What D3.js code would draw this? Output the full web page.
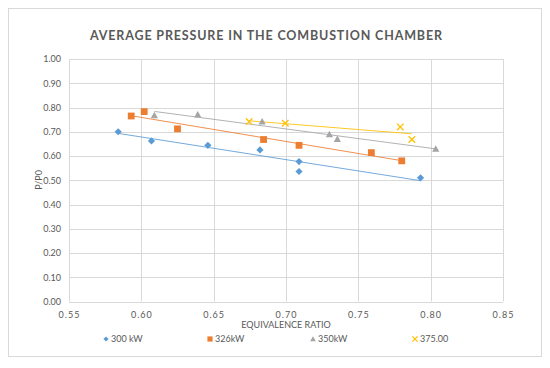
<!DOCTYPE html>
<html><head><meta charset="utf-8">
<script src="https://cdn.jsdelivr.net/npm/d3@7"></script>
<style>body{margin:0;background:#fff}svg{display:block}text{font-family:Lato,"Open Sans",sans-serif}</style>
</head><body><svg id="c" width="550" height="368"></svg>
<script>
const title = "AVERAGE PRESSURE IN THE COMBUSTION CHAMBER";
const xTitle = "EQUIVALENCE RATIO";
const yTitle = "P/P0";
const xTicks = [0.55,0.60,0.65,0.70,0.75,0.80,0.85];
const yTicks = [0,0.1,0.2,0.3,0.4,0.5,0.6,0.7,0.8,0.9,1.0];
const seriesNames = ["300 kW","326kW","350kW","375.00"];
const seriesColors = ["#5B9BD5","#ED7D31","#A5A5A5","#FFC000"];
const s300x = [0.584,0.607,0.646,0.682,0.709,0.709,0.793];
const s300y = [0.700,0.662,0.644,0.625,0.577,0.536,0.510];
const s326x = [0.593,0.602,0.625,0.6845,0.709,0.759,0.780];
const s326y = [0.765,0.783,0.712,0.668,0.644,0.614,0.580];
const s350x = [0.609,0.639,0.6835,0.730,0.7355,0.8035];
const s350y = [0.768,0.771,0.742,0.689,0.670,0.629];
const s375x = [0.6745,0.6995,0.779,0.787];
const s375y = [0.742,0.735,0.720,0.668];

const series = [[s300x,s300y],[s326x,s326y],[s350x,s350y],[s375x,s375y]].map((s,i)=>({
  name: seriesNames[i], color: seriesColors[i],
  pts: s[0].map((x,j)=>({x, y:s[1][j]}))
}));

const svg = d3.select("#c");
svg.append("rect").attr("x",8.5).attr("y",8.5).attr("width",533).attr("height",348)
  .attr("fill","#fff").attr("stroke","#d9d9d9");

const x = d3.scaleLinear().domain([0.55,0.85]).range([69,503]);
const y = d3.scaleLinear().domain([0,1]).range([301.5,59]);

svg.append("g").selectAll("line").data(yTicks).join("line")
  .attr("x1",69).attr("x2",503).attr("y1",d=>Math.round(y(d))+0.5).attr("y2",d=>Math.round(y(d))+0.5)
  .attr("stroke","#d9d9d9");
svg.append("g").selectAll("line").data(xTicks).join("line")
  .attr("y1",59).attr("y2",301.5).attr("x1",d=>Math.round(x(d))+0.5).attr("x2",d=>Math.round(x(d))+0.5)
  .attr("stroke","#d9d9d9");

const ax = svg.append("g").attr("transform","translate(0,301.5)")
  .call(d3.axisBottom(x).tickValues(xTicks).tickFormat(d3.format(".2f")).tickSize(0).tickPadding(10));
ax.select(".domain").remove();
ax.selectAll("text").attr("fill","#595959").attr("font-size",9).style("letter-spacing","1px").attr("font-family","Lato");
const ay = svg.append("g").attr("transform","translate(69,0)")
  .call(d3.axisLeft(y).tickValues(yTicks).tickFormat(d3.format(".2f")).tickSize(0).tickPadding(8));
ay.select(".domain").remove();
ay.selectAll("text").attr("fill","#595959").attr("font-size",9).attr("font-family","Lato");

svg.append("text").attr("x",90).attr("y",40)
  .attr("font-size",12.5).attr("font-weight","bold").attr("fill","#595959")
  .attr("textLength",352).attr("lengthAdjust","spacing").text(title);
svg.append("text").attr("x",286).attr("y",328).attr("text-anchor","middle")
  .attr("font-size",9).attr("fill","#595959").text(xTitle);
svg.append("text").attr("transform","translate(42,180) rotate(-90)").attr("text-anchor","middle")
  .attr("font-size",9).attr("fill","#595959").text(yTitle);

function fit(pts){
  const mx=d3.mean(pts,d=>d.x), my=d3.mean(pts,d=>d.y);
  const b=d3.sum(pts,d=>(d.x-mx)*(d.y-my))/d3.sum(pts,d=>(d.x-mx)**2);
  const a=my-b*mx;
  const [x0,x1]=d3.extent(pts,d=>d.x);
  return [{x:x0,y:a+b*x0},{x:x1,y:a+b*x1}];
}
const line = d3.line().x(d=>x(d.x)).y(d=>y(d.y));
series.forEach(s=>{
  svg.append("path").datum(fit(s.pts)).attr("d",line).attr("fill","none")
    .attr("stroke",s.color).attr("stroke-width",1).attr("opacity",0.85);
});

function markerPath(i,r){
  if(i===0) return `M0,${-r}L${r},0L0,${r}L${-r},0Z`;
  if(i===1) return `M${-r},${-r}H${r}V${r}H${-r}Z`;
  if(i===2) return `M0,${-r}L${r},${r*0.8}L${-r},${r*0.8}Z`;
  return `M${-r},${-r}L${r},${r}M${-r},${r}L${r},${-r}`;
}
function marker(g,i,color,r){
  const p=g.append("path").attr("d",markerPath(i,r));
  if(i===3) p.attr("stroke",color).attr("stroke-width",1.3).attr("fill","none");
  else p.attr("fill",color);
}
const mr=[3.6,3.4,3.6,3.3];
series.forEach((s,i)=>{
  s.pts.forEach(p=>{
    const g=svg.append("g").attr("transform",`translate(${x(p.x)},${y(p.y)})`);
    marker(g,i,s.color,mr[i]);
  });
});

const legX=[106,210,313,415];
const lr=[2.6,2.6,2.8,2.6];
series.forEach((s,i)=>{
  const g=svg.append("g").attr("transform",`translate(${legX[i]},339)`);
  marker(g,i,s.color,lr[i]);
  g.append("text").attr("x",5).attr("y",3.2).attr("font-size",9).attr("fill","#595959").text(s.name);
});
</script></body></html>
